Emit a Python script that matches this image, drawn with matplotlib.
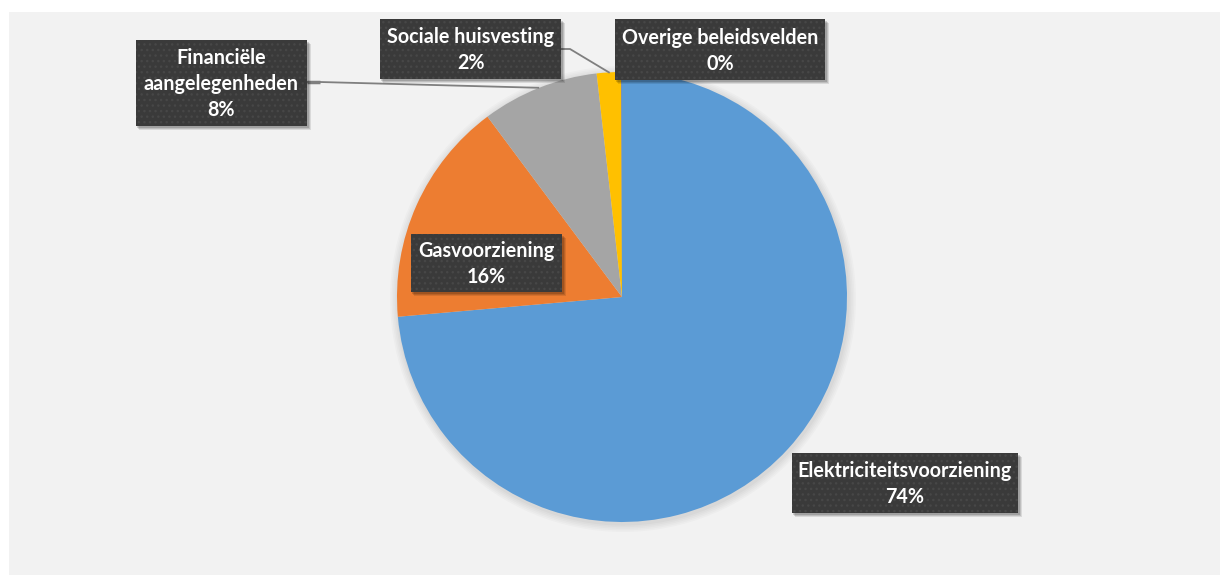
import numpy as np
import matplotlib
matplotlib.use("Agg")
import matplotlib.pyplot as plt
from matplotlib.patches import Rectangle

# ---- data ----
categories = ["Elektriciteitsvoorziening", "Gasvoorziening", "Financiële\naangelegenheden",
              "Sociale huisvesting", "Overige beleidsvelden"]
values = [73.6, 16.2, 8.4, 1.75, 0.05]
colors = ["#5B9BD5", "#ED7D31", "#A5A5A5", "#FFC000", "#4472C4"]

W, H = 1220, 575
fig = plt.figure(figsize=(W / 100, H / 100), dpi=100)
fig.patch.set_facecolor("white")
ax = fig.add_axes([0, 0, 1, 1])
ax.set_xlim(0, W)
ax.set_ylim(0, H)
ax.set_aspect("equal")
ax.axis("off")

def Y(y):  # image-pixel y (top-down) -> axes y
    return H - y

# panel
ax.add_patch(Rectangle((9, 0), W - 9, Y(12), facecolor="#F2F2F2", edgecolor="none", zorder=0))

cx, cy, R = 622, 297, 225

# soft pie shadow
for i, a in enumerate([0.018, 0.018, 0.02, 0.02, 0.025]):
    ax.add_patch(plt.Circle((cx + 1, Y(cy) - 2), R + 8 - i * 1.6, facecolor="black",
                            alpha=a, edgecolor="none", zorder=1))

wedges, _ = ax.pie(values, colors=colors, startangle=90, counterclock=False,
                   center=(cx, Y(cy)), radius=R, frame=True,
                   wedgeprops=dict(linewidth=0, zorder=2))
ax.set_xlim(0, W)
ax.set_ylim(0, H)
ax.axis("off")

total = sum(values)
pcts = [f"{round(v / total * 100):.0f}%" for v in values]

# label box layout (image px: x0, y0, x1, y1)
boxes = [(792, 453, 1018, 513), (411, 234, 562, 292), (136, 40, 307, 126),
         (380, 19, 561, 79), (615, 19, 825, 80)]

# leader lines: from box edge to slice mid-point on the rim
cum = np.cumsum([0] + values[:-1])
mids = [(c + v / 2) / total * 360 for c, v in zip(cum, values)]

def rim_point(idx):
    th = np.deg2rad(90 - mids[idx])
    return cx + R * np.cos(th), Y(cy) + R * np.sin(th)

lc = "#7F7F7F"
# Financiële
px, py = rim_point(2)
ax.plot([307, 320, px], [Y(82), Y(82), py], color=lc, lw=1.3, zorder=3, solid_capstyle="butt")
ax.plot([307, 320], [Y(82), Y(82)], color=lc, lw=2.5, zorder=3, solid_capstyle="butt")
# Sociale
px, py = rim_point(3)
ax.plot([561, 570, px], [Y(49), Y(49), py], color=lc, lw=1.3, zorder=3)

font = dict(family=["Lato", "DejaVu Sans"], weight="bold", color="white", size=14.2)

for (x0, y0, x1, y1), cat, pct in zip(boxes, categories, pcts):
    w, h = x1 - x0, y1 - y0
    # shadow
    for k, a in enumerate([0.10, 0.12, 0.15]):
        off = 4 - k
        ax.add_patch(Rectangle((x0 + off - 1, Y(y1) - off), w + 1, h, facecolor="black",
                               alpha=a, edgecolor="none", zorder=4))
    ax.add_patch(Rectangle((x0, Y(y1)), w, h, facecolor="#3A3A3A", edgecolor="none", zorder=5))
    ax.add_patch(Rectangle((x0, Y(y1)), w, h, fill=False, hatch="...", edgecolor="#474747",
                           linewidth=0, zorder=5.5))
    lines = cat.split("\n") + [pct]
    n = len(lines)
    center = (y0 + y1) / 2
    mean_base = center + 7
    for i, t in enumerate(lines):
        base = mean_base + (i - (n - 1) / 2) * 26
        ax.text((x0 + x1) / 2, Y(base), t, ha="center", va="baseline", zorder=6, **font)

fig.savefig("out.png", dpi=100, facecolor=fig.get_facecolor())
